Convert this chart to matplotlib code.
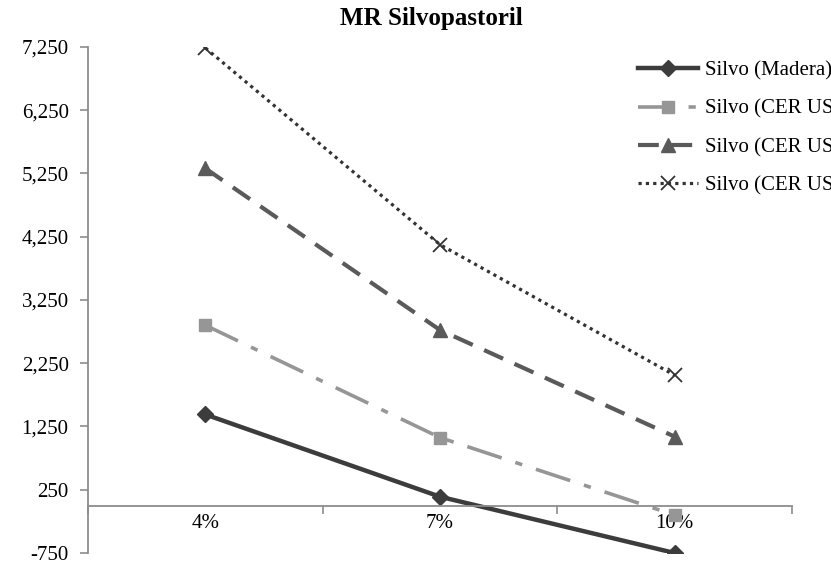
import matplotlib
matplotlib.use('Agg')
import matplotlib.pyplot as plt
from matplotlib.ticker import FuncFormatter, FixedLocator

plt.rcParams['font.family'] = ['Liberation Serif', 'DejaVu Serif']

# data
categories = ['4%', '7%', '10%']
madera = [1440, 140, -750]
cer_a = [2850, 1075, -150]
cer_b = [5330, 2775, 1090]
cer_c = [7235, 4125, 2060]
labels = ['Silvo (Madera)', r'Silvo (CER US\$ 5)', r'Silvo (CER US\$ 10)', r'Silvo (CER US\$ 15)']
yticks = [-750, 250, 1250, 2250, 3250, 4250, 5250, 6250, 7250]

fig = plt.figure(figsize=(8.31, 5.64), dpi=100)
ax = fig.add_axes([0.106, 0.0195, 0.847, 0.8972])

x = [1, 2, 3]
ax.plot(x, madera, color='#3c3c3c', lw=3.2, ls='-', marker='D', ms=8, label=labels[0])
ax.plot(x, cer_a, color='#969696', lw=2.6, ls=(0, (10, 4, 2, 4)), marker='s', ms=9, label=labels[1])
ax.plot(x, cer_b, color='#5a5a5a', lw=3, ls=(0, (5, 3)), marker='^', ms=10, label=labels[2])
ax.plot(x, cer_c, color='#333333', lw=2.3, ls=(0, (1, 1.3)), marker='x', ms=10, mew=1.3, label=labels[3])

ax.set_xlim(0.5, 3.5)
ax.set_ylim(-750, 7250)
ax.set_yticks(yticks)
ax.yaxis.set_major_formatter(FuncFormatter(lambda v, p: '{:,.0f}'.format(v)))
ax.set_xticks(x)
ax.set_xticklabels(categories)
ax.xaxis.set_minor_locator(FixedLocator([0.5, 1.5, 2.5, 3.5]))
ax.tick_params(axis='x', which='major', length=0, pad=6, labelsize=15)
ax.tick_params(axis='x', which='minor', length=6, color='#8c8c8c', width=1.2)
ax.tick_params(axis='y', length=6, color='#8c8c8c', width=1.2, labelsize=15, pad=8)

for s in ['top', 'right']:
    ax.spines[s].set_visible(False)
ax.spines['bottom'].set_position(('data', 0))
ax.spines['bottom'].set_color('#8c8c8c')
ax.spines['left'].set_color('#8c8c8c')
ax.spines['bottom'].set_linewidth(1.3)
ax.spines['left'].set_linewidth(1.3)

fig.text(0.519, 0.968, 'MR Silvopastoril', fontsize=18, fontweight='bold',
         ha='center', va='center')

fig.legend(loc='upper left', bbox_to_anchor=(0.745, 0.925), frameon=False,
           fontsize=15, handlelength=2.9, labelspacing=0.88, handletextpad=0.3)

fig.savefig('out.png', dpi=100)
